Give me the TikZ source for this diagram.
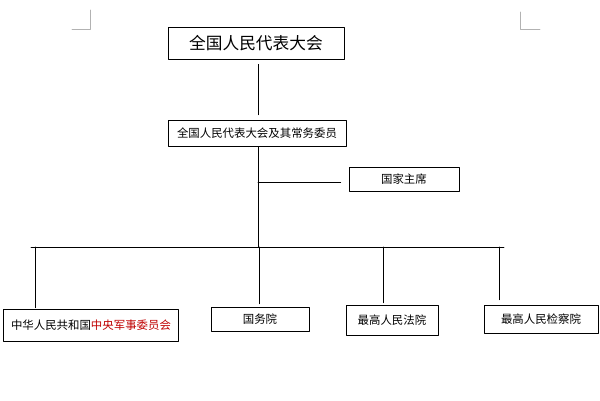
\documentclass[tikz,border=0pt]{standalone}
\usepackage{fontspec}
\setmainfont{Noto Sans CJK SC}
\usetikzlibrary{calc}

\begin{document}
\begin{tikzpicture}[
  x=0.02cm, y=-0.02cm,
  line cap=round,
  line join=round,
  org/.style={draw, line width=0.5pt, minimum height=0.5cm, font=\fontsize{6.5}{7}\selectfont, inner sep=0pt},
  link/.style={line width=0.5pt}
]
\useasboundingbox (0,0) rectangle (600,400);

% page corner marks
\draw [gray!60] (72,29) -- (90,29) -- (90,10);
\draw [gray!60] (540,29) -- (520,29) -- (520,12);

% boxes
\node [org, minimum width=3.52cm, minimum height=0.64cm, font=\fontsize{9.5}{10}\selectfont] (npc) at (256,43) {全国人民代表大会};
\node [org, minimum width=3.56cm, minimum height=0.52cm] (npcsc) at (257,133) {全国人民代表大会及其常务委员};
\node [org, minimum width=2.2cm, minimum height=0.48cm] (pres) at (404,179) {国家主席};
\node [org, minimum width=3.5cm, minimum height=0.64cm] (cmc) at (91,325) {中华人民共和国\textcolor{red!75!black}{中央军事委员会}};
\node [org, minimum width=1.96cm, minimum height=0.48cm] (state) at (260,319) {国务院};
\node [org, minimum width=1.84cm, minimum height=0.6cm] (court) at (392,320) {最高人民法院};
\node [org, minimum width=2.28cm, minimum height=0.56cm] (proc) at (541,319) {最高人民检察院};

% connectors
\coordinate (hub) at (258,182);
\coordinate (bus) at (258,247);
\coordinate (busL) at (31,247);
\coordinate (busR) at (504,247);
\draw [link] ($(npc.south)+(2,5)$) -- ($(npcsc.north)+(1,-5)$);
\draw [link] (npcsc.south -| hub) -- (bus);
\draw [link] (hub) -- ($(pres.west)+(-8,3)$);
\draw [link] (busL) -- (busR);
\draw [link] (35,247) -- ($(cmc.north -| 35,0)+(0,-1)$);
\draw [link] (259,247) -- ($(state.north -| 259,0)+(0,-3)$);
\draw [link] (383,247) -- ($(court.north -| 383,0)+(0,-2)$);
\draw [link] (499,247) -- ($(proc.north -| 499,0)+(0,-5)$);
\end{tikzpicture}
\end{document}
